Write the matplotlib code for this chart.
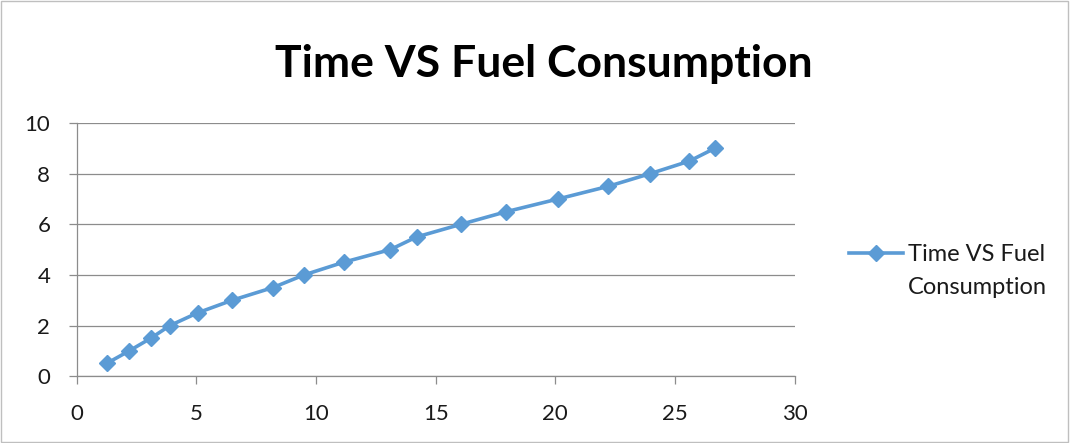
import matplotlib
matplotlib.use("Agg")
from matplotlib import pyplot as plt
from matplotlib.lines import Line2D
from matplotlib.patches import Rectangle

# data
time_vals = [1.25, 2.2, 3.1, 3.9, 5.05, 6.5, 8.2, 9.5, 11.15, 13.1, 14.2,
             16.05, 17.95, 20.1, 22.2, 23.95, 25.6, 26.65]
fuel_vals = [0.5, 1.0, 1.5, 2.0, 2.5, 3.0, 3.5, 4.0, 4.5, 5.0, 5.5,
             6.0, 6.5, 7.0, 7.5, 8.0, 8.5, 9.0]
x_ticks = [0, 5, 10, 15, 20, 25, 30]
y_ticks = [0, 2, 4, 6, 8, 10]
title = "Time VS Fuel Consumption"
legend_lines = ["Time VS Fuel", "Consumption"]

plt.rcParams['font.family'] = ['Lato', 'DejaVu Sans']

fig = plt.figure(figsize=(10.71, 4.43), dpi=100)
ax = fig.add_axes([0.0716, 0.151, 0.6704, 0.571])

line, = ax.plot(time_vals, fuel_vals, color='#5B9BD5', linewidth=2.6,
                marker='D', markersize=8)

ax.set_xlim(0, 30)
ax.set_ylim(0, 10)
ax.set_xticks(x_ticks)
ax.set_yticks(y_ticks)
ax.grid(axis='y', color='#8c8c8c', linewidth=0.9)
ax.set_axisbelow(True)

for side in ('top', 'right'):
    ax.spines[side].set_visible(False)
for side in ('left', 'bottom'):
    ax.spines[side].set_color('#8c8c8c')
    ax.spines[side].set_linewidth(0.9)
ax.tick_params(axis='both', colors='#8c8c8c', labelcolor='#1a1a1a',
               labelsize=16, length=6, width=0.9, direction='out')
ax.tick_params(axis='y', pad=13)
ax.tick_params(axis='x', pad=14)

fig.text(0.508, 0.855, title, ha='center', va='center',
         fontsize=32, fontweight='bold')

# handle sits on the first label line, like the spreadsheet legend
blank = Line2D([], [], alpha=0)
leg = ax.legend(handles=[line, blank], labels=legend_lines,
                loc='center left', bbox_to_anchor=(1.0756, 0.415),
                frameon=False, fontsize=17, handlelength=2.3,
                handletextpad=0.2, labelspacing=0.5,
                borderpad=0, borderaxespad=0)
for t in leg.get_texts():
    t.set_color('#1a1a1a')

fig.patches.append(Rectangle((0.001, 0.002), 0.996, 0.995,
                             transform=fig.transFigure, fill=False,
                             edgecolor='#bfbfbf', linewidth=1))

fig.savefig("out.png", dpi=100)
